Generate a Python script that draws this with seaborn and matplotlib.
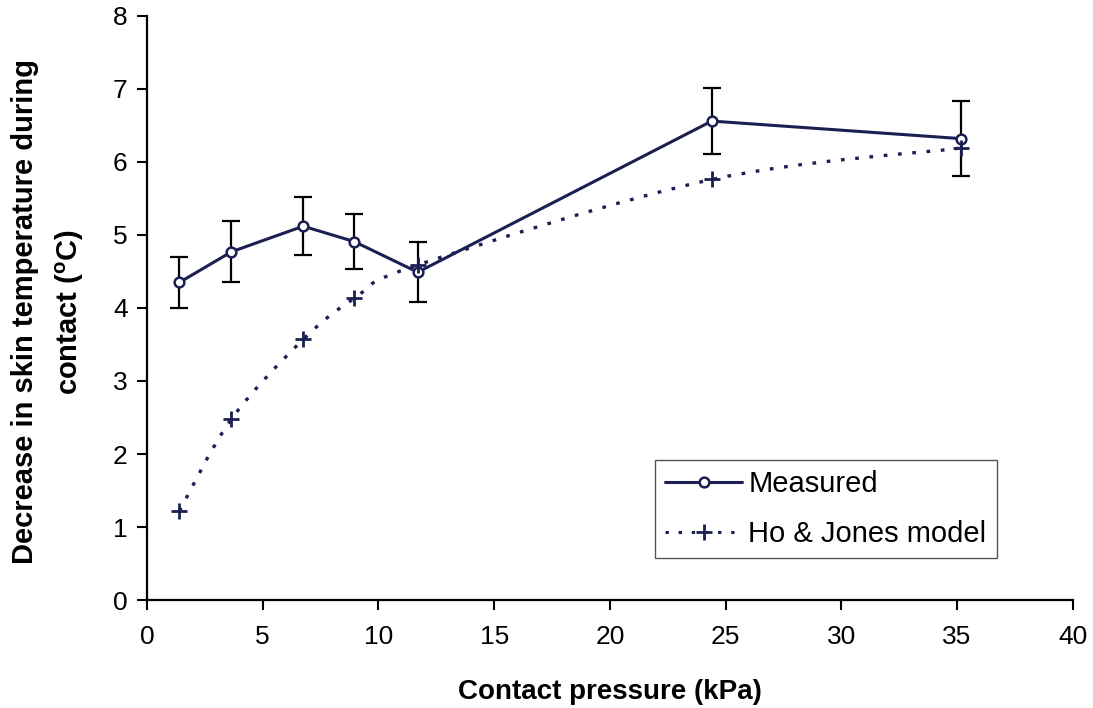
import numpy as np
import matplotlib
matplotlib.use("Agg")
import matplotlib.pyplot as plt
from matplotlib.path import Path
from matplotlib.patches import PathPatch
from matplotlib.lines import Line2D
import seaborn as sns
import pandas as pd

# Contact pressure (kPa) and skin temperature decrease (°C)
pressure = [1.4, 3.65, 6.75, 8.95, 11.7, 24.4, 35.15]
measured = [4.35, 4.77, 5.12, 4.91, 4.49, 6.56, 6.32]
measured_err = [0.35, 0.42, 0.40, 0.38, 0.41, 0.45, 0.51]
model = [1.22, 2.48, 3.57, 4.13, 4.59, 5.76, 6.19]

x_ticks = [0, 5, 10, 15, 20, 25, 30, 35, 40]
y_ticks = [0, 1, 2, 3, 4, 5, 6, 7, 8]

sns.set_theme(style="ticks")
plt.rcParams["font.family"] = ["Liberation Sans", "DejaVu Sans"]
plt.rcParams["mathtext.fontset"] = "custom"
plt.rcParams["mathtext.rm"] = "Liberation Sans"
plt.rcParams["mathtext.bf"] = "Liberation Sans:bold"

NAVY = "#1b1f52"
DOTS = (0, (1.1, 3.2))

df = pd.DataFrame({"pressure": pressure, "measured": measured,
                   "err": measured_err, "model": model})

fig = plt.figure(figsize=(10.93, 7.08), dpi=100)
ax = fig.add_axes([0.1345, 0.1525, 0.847, 0.825])

# error bars (black, behind the markers)
ax.errorbar(df["pressure"], df["measured"], yerr=df["err"], fmt="none",
            ecolor="black", elinewidth=1.6, capsize=6.5, capthick=1.6, zorder=2)

# measured series
sns.lineplot(data=df, x="pressure", y="measured", ax=ax, color=NAVY,
             linewidth=2.2, marker="o", markersize=7, markerfacecolor="white",
             markeredgecolor=NAVY, markeredgewidth=1.8, zorder=3)

# smoothed dotted curve through the model points (Catmull-Rom as cubic Bezier)
pts = np.column_stack([pressure, model])
verts = [tuple(pts[0])]
codes = [Path.MOVETO]
n = len(pts)
for i in range(n - 1):
    p0 = pts[i - 1] if i > 0 else pts[i]
    p1 = pts[i]
    p2 = pts[i + 1]
    p3 = pts[i + 2] if i + 2 < n else pts[i + 1]
    c1 = p1 + (p2 - p0) / 6.0
    c2 = p2 - (p3 - p1) / 6.0
    verts += [tuple(c1), tuple(c2), tuple(p2)]
    codes += [Path.CURVE4] * 3
curve = PathPatch(Path(verts, codes), facecolor="none", edgecolor=NAVY,
                  linewidth=2.4, linestyle=DOTS, zorder=4)
ax.add_patch(curve)

# model markers
sns.scatterplot(data=df, x="pressure", y="model", ax=ax, marker="+",
                s=120, color=NAVY, linewidth=2.0, zorder=5)

ax.set_xlim(0, 40)
ax.set_ylim(0, 8)
ax.set_xticks(x_ticks)
ax.set_yticks(y_ticks)
ax.tick_params(axis="both", labelsize=19, length=7, width=1.5,
               direction="out", colors="black", pad=7)
ax.tick_params(axis="x", pad=11)

for side in ["top", "right"]:
    ax.spines[side].set_visible(False)
for side in ["left", "bottom"]:
    ax.spines[side].set_linewidth(1.6)
    ax.spines[side].set_color("black")

ax.set_xlabel("Contact pressure (kPa)", fontsize=20, fontweight="bold",
              color="black")
ax.xaxis.set_label_coords(0.5, -0.135)
ax.set_ylabel("Decrease in skin temperature during\ncontact ($\\mathbf{^{o}}$C)",
              fontsize=21, fontweight="bold", linespacing=1.6, color="black")
ax.yaxis.set_label_coords(-0.066, 0.494)

handles = [
    Line2D([], [], color=NAVY, linewidth=2.2, marker="o", markersize=7,
           markerfacecolor="white", markeredgecolor=NAVY, markeredgewidth=1.8),
    Line2D([], [], color=NAVY, linewidth=2.2, linestyle=DOTS,
           marker="+", markersize=11, markeredgewidth=2.0),
]
leg = ax.legend(handles, ["Measured", "Ho & Jones model"], loc="upper left",
                bbox_to_anchor=(0.5486, 0.2397), fontsize=21, frameon=True,
                fancybox=False, framealpha=1, edgecolor="#555555",
                handlelength=2.65, handletextpad=0.2, borderpad=0.35,
                labelspacing=0.75, borderaxespad=0)
leg.get_frame().set_linewidth(1.0)
for t in leg.get_texts():
    t.set_color("black")

fig.savefig("out.png", dpi=100, facecolor="white")
